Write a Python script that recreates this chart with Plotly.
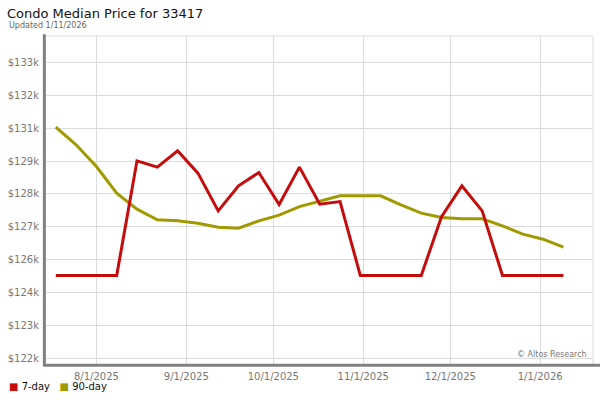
import plotly.graph_objects as go
import pandas as pd

RED = '#c40c0c'
OLIVE = '#a09a00'
GRID = '#dcdcdc'
AXIS = '#808080'
LABEL = '#777777'

dates = pd.date_range('2025-07-18', periods=26, freq='7D')

day7 = [125070, 125070, 125070, 125070, 129340, 129105, 129713, 128882,
        127477, 128409, 128904, 127712, 129105, 127727, 127824, 125070,
        125070, 125070, 125070, 127265, 128409, 127477, 125070, 125070,
        125070, 125070]

day90 = [130596, 129936, 129128, 128137, 127541, 127142, 127105, 127019,
         126870, 126833, 127105, 127317, 127637, 127824, 128036, 128036,
         128036, 127701, 127391, 127228, 127179, 127179, 126918, 126609,
         126423, 126125]

# the source chart puts ticks at uneven thousands and rounds the labels
ytick_vals = [122000 + k * 11000 / 9 for k in range(10)]
ytick_text = ['$122k', '$123k', '$124k', '$126k', '$127k',
              '$128k', '$129k', '$131k', '$132k', '$133k']

xtick_vals = ['2025-08-01', '2025-09-01', '2025-10-01',
              '2025-11-01', '2025-12-01', '2026-01-01']

fig = go.Figure()
fig.add_trace(go.Scatter(x=dates, y=day90, mode='lines', name='90-day',
                         line=dict(color=OLIVE, width=3)))
fig.add_trace(go.Scatter(x=dates, y=day7, mode='lines', name='7-day',
                         line=dict(color=RED, width=3)))

fig.update_layout(
    width=600, height=400,
    margin=dict(l=46, r=7, t=36, b=36, autoexpand=False),
    paper_bgcolor='white', plot_bgcolor='white',
    showlegend=False,
    font=dict(family='DejaVu Sans', size=10, color=LABEL),
    title=dict(text='Condo Median Price for 33417', x=7 / 600, xref='container',
               xanchor='left', y=1 - 13 / 400, yref='container', yanchor='middle',
               font=dict(size=13, color='#111111')),
    xaxis=dict(
        range=['2025-07-14 15:00', '2026-01-19 05:00'],
        tickvals=xtick_vals, tickformat='%-m/%-d/%Y',
        showgrid=True, gridcolor=GRID, gridwidth=1,
        zeroline=False, showline=False, ticks='', automargin=False,
        ticklabelstandoff=5,
        tickfont=dict(size=10, color=LABEL),
    ),
    yaxis=dict(
        range=[121777, 133986],
        tickvals=ytick_vals, ticktext=ytick_text,
        showgrid=True, gridcolor=GRID, gridwidth=1,
        zeroline=False, showline=False, ticks='', automargin=False,
        ticklabelstandoff=6,
        tickfont=dict(size=10, color=LABEL),
    ),
    shapes=[
        # light frame top / right
        dict(type='line', xref='paper', yref='paper', x0=0, x1=1, y0=1, y1=1,
             line=dict(color=GRID, width=1)),
        dict(type='line', xref='paper', yref='paper', x0=1, x1=1, y0=0, y1=1,
             line=dict(color=GRID, width=1)),
        # thick grey axes
        dict(type='line', xref='paper', yref='paper', x0=-0.003, x1=-0.003,
             y0=-0.006, y1=1.005, line=dict(color=AXIS, width=3)),
        dict(type='line', xref='paper', yref='paper', x0=-0.005, x1=1.013,
             y0=-0.004, y1=-0.004, line=dict(color=AXIS, width=3)),
    ],
    annotations=[
        dict(text='Updated 1/11/2026', xref='paper', yref='paper',
             x=-39 / 547, y=1 + 11 / 328, xanchor='left', yanchor='middle',
             showarrow=False, font=dict(size=8, color='#666666')),
        dict(text='© Altos Research', xref='paper', yref='paper',
             x=0.992, y=0.008, xanchor='right', yanchor='bottom', showarrow=False,
             font=dict(size=8, color='#777777')),
        dict(text=f'<span style="color:{RED}">■</span> 7-day   '
                  f'<span style="color:{OLIVE}">■</span> 90-day',
             xref='paper', yref='paper', x=-39 / 547, y=-22 / 328,
             xanchor='left', yanchor='middle', showarrow=False,
             font=dict(size=10, color='#111111')),
    ],
)

# page body has an 8px default margin; drop it so the chart sits at 0,0
fig.write_html('out.html', config={'displayModeBar': False},
               post_script="document.body.style.margin='0';")
